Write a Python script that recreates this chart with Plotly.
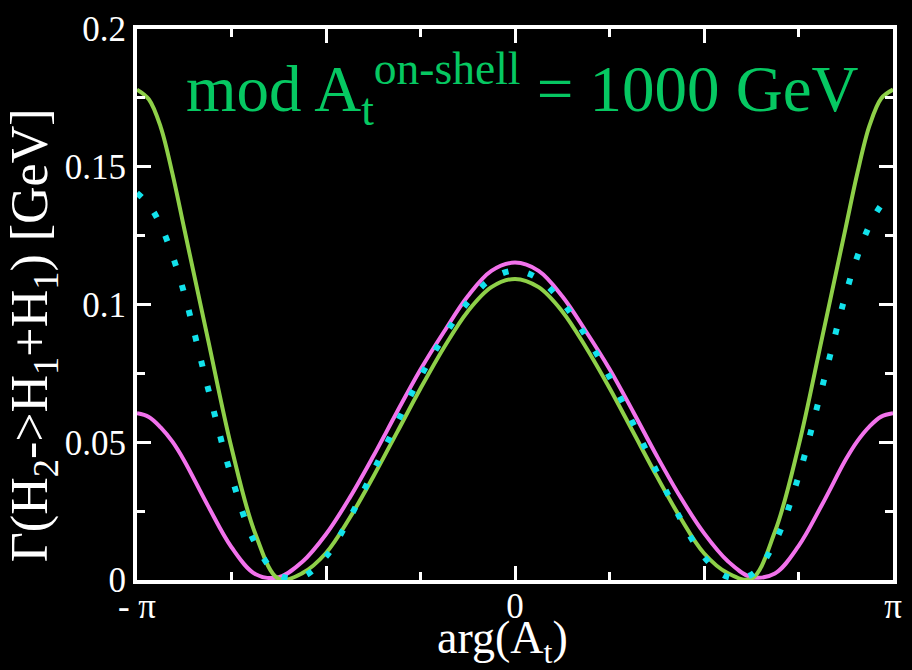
import plotly.graph_objects as go

# arg(A_t) in units of pi
phi = [-1.0, -0.96875, -0.9375, -0.90625, -0.875, -0.8125, -0.75, -0.6875, -0.625, -0.5625, -0.5,
       -0.4375, -0.375, -0.3125, -0.25, -0.1875, -0.125, -0.0625, 0.0,
       0.0625, 0.125, 0.1875, 0.25, 0.3125, 0.375, 0.4375, 0.5,
       0.5625, 0.625, 0.6875, 0.75, 0.8125, 0.875, 0.90625, 0.9375, 0.96875, 1.0]

gamma_green = [0.178, 0.1745, 0.1645, 0.1475, 0.1275, 0.0875, 0.048, 0.017, 0.0004, 0.0025, 0.0098,
               0.0225, 0.0375, 0.0535, 0.0695, 0.0845, 0.0975, 0.1063, 0.1093,
               0.1063, 0.0975, 0.0845, 0.0697, 0.0537, 0.0377, 0.0226, 0.0097,
               0.0025, 0.0004, 0.0175, 0.0485, 0.088, 0.128, 0.148, 0.1648, 0.1748, 0.178]

gamma_pink = [0.0605, 0.0592, 0.0554, 0.0502, 0.0433, 0.0270, 0.0119, 0.0022, 0.0010, 0.0066, 0.0166,
              0.0298, 0.0449, 0.0609, 0.0764, 0.0902, 0.1030, 0.1122, 0.1152,
              0.1122, 0.1030, 0.0903, 0.0766, 0.0611, 0.0451, 0.0301, 0.0170,
              0.0069, 0.0011, 0.0024, 0.0123, 0.0274, 0.0437, 0.0505, 0.0557, 0.0593, 0.0605]

gamma_cyan = [0.1405, 0.1362, 0.1288, 0.1178, 0.1040, 0.0698, 0.0375, 0.0134, 0.0018, 0.0012, 0.0085,
              0.0225, 0.0395, 0.0570, 0.0738, 0.0885, 0.1008, 0.1093, 0.1123,
              0.1093, 0.1008, 0.0885, 0.0737, 0.0568, 0.0393, 0.0223, 0.0084,
              0.0011, 0.0019, 0.0137, 0.0376, 0.0700, 0.1038, 0.1176, 0.1286, 0.1360, 0.1402]

x_tickvals = [-1.0, -0.5, 0.0, 0.5, 1.0]
x_ticktext = ["- \u03c0", "", "0", "", "\u03c0"]
x_minorvals = [-0.75, -0.25, 0.25, 0.75]
y_tickvals = [0, 0.05, 0.1, 0.15, 0.2]
y_ticktext = ["0", "0.05", "0.1", "0.15", "0.2"]

FONT = "Liberation Serif"

fig = go.Figure()
fig.add_trace(go.Scatter(x=phi, y=gamma_pink, mode="lines",
                         line=dict(color="#F272EC", width=4, shape="spline", smoothing=1.0)))
fig.add_trace(go.Scatter(x=phi, y=gamma_green, mode="lines",
                         line=dict(color="#8ED048", width=4, shape="spline", smoothing=1.0)))
fig.add_trace(go.Scatter(x=phi, y=gamma_cyan, mode="lines",
                         line=dict(color="#12E2EC", width=6, dash="6px,20px", shape="spline", smoothing=1.0)))

axis_common = dict(showline=True, linecolor="white", linewidth=4, mirror="allticks",
                   ticks="inside", tickcolor="white", tickwidth=3, ticklen=14,
                   showgrid=False, zeroline=False, ticklabeloverflow="allow",
                   tickfont=dict(family=FONT, size=35, color="white"))

fig.update_xaxes(range=[-1, 1], tickmode="array", tickvals=x_tickvals, ticktext=x_ticktext,
                 minor=dict(tickmode="array", tickvals=x_minorvals, ticks="inside",
                            ticklen=8, tickwidth=3, tickcolor="white"),
                 ticklabelstandoff=-8,
                 **axis_common)
fig.update_yaxes(range=[0, 0.2], tickmode="array", tickvals=y_tickvals, ticktext=y_ticktext,
                 minor=dict(dtick=0.025, ticks="inside", ticklen=8, tickwidth=3, tickcolor="white"),
                 **axis_common)

# axis titles
fig.add_annotation(xref="paper", yref="paper", x=0.483, y=-0.11, xanchor="center", yanchor="middle",
                   text="arg(A<sub>t</sub>)", showarrow=False,
                   font=dict(family=FONT, size=46, color="white"))
fig.add_annotation(xref="paper", yref="paper", x=-0.137, y=0.445, xanchor="center", yanchor="middle",
                   text="\u0393(H<sub>2</sub>->H<sub>1</sub>+H<sub>1</sub>) [GeV]", showarrow=False,
                   textangle=-90, font=dict(family=FONT, size=52, color="white"))

fig.add_annotation(xref="paper", yref="paper", x=0.062, y=0.891, xanchor="left", yanchor="middle",
                   text="mod A<sub>t</sub><sup>on-shell</sup> = 1000 GeV", showarrow=False,
                   font=dict(family=FONT, size=65, color="#06C862"))

fig.update_layout(width=912, height=670, paper_bgcolor="black", plot_bgcolor="black",
                  margin=dict(l=137, r=10, t=17, b=90), showlegend=False)

fig.write_html("out.html")
